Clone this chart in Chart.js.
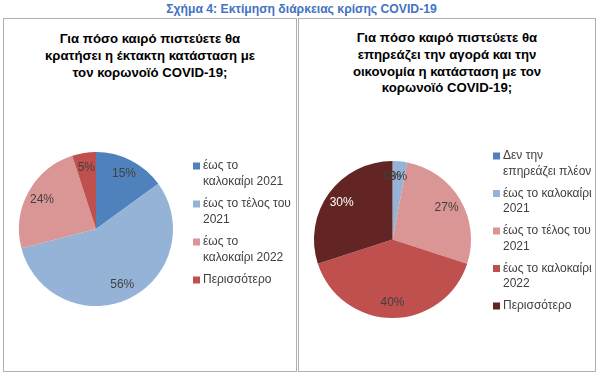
<!DOCTYPE html>
<html>
<head>
<meta charset="utf-8">
<script src="https://cdn.jsdelivr.net/npm/chart.js@4"></script>
<style>
  html, body { margin:0; padding:0; background:#fff; }
  body { width:600px; height:378px; position:relative; overflow:hidden; font-family:"Liberation Sans", Arial, sans-serif; }
  #main { position:absolute; left:0; top:2px; width:603px; text-align:center; color:#4472C4; font-weight:bold; font-size:12.2px; }
  .panel { position:absolute; top:18px; height:354px; border:1px solid #B0B0B0; box-sizing:border-box; }
  .ptitle { position:absolute; left:0; right:0; text-align:center; font-weight:bold; font-size:13.2px; line-height:16.8px; color:#000; }
  canvas { position:absolute; left:0; top:0; }
</style>
</head>
<body>
<div id="main">Σχήμα 4: Εκτίμηση διάρκειας κρίσης COVID-19</div>
<div class="panel" id="p1" style="left:3px;width:294px;">
  <div class="ptitle" style="top:12px;">Για πόσο καιρό πιστεύετε θα<br>κρατήσει η έκτακτη κατάσταση με<br>τον κορωνοϊό COVID-19;</div>
  <canvas id="c1" width="292" height="352"></canvas>
</div>
<div class="panel" id="p2" style="left:298px;width:298px;">
  <div class="ptitle" style="top:11px;">Για πόσο καιρό πιστεύετε θα<br>επηρεάζει την αγορά και την<br>οικονομία η κατάσταση με τον<br>κορωνοϊό COVID-19;</div>
  <canvas id="c2" width="296" height="352"></canvas>
</div>
<script>
// ---- Data ----
const leftCategories = [["έως το","καλοκαίρι 2021"],["έως το τέλος του","2021"],["έως το","καλοκαίρι 2022"],["Περισσότερο"]];
const leftValues = [15, 56, 24, 5];
const leftColors = ["#4F81BD","#95B3D7","#D99694","#C0504D"];

const rightCategories = [["Δεν την","επηρεάζει πλέον"],["έως το καλοκαίρι","2021"],["έως το τέλος του","2021"],["έως το καλοκαίρι","2022"],["Περισσότερο"]];
const rightValues = [0, 3, 27, 40, 30];
const rightColors = ["#4F81BD","#95B3D7","#D99694","#C0504D","#632523"];
const rightLabelColors = ["#404040","#404040","#404040","#404040","#FFFFFF"];

const FONT = '"Liberation Sans", Arial, sans-serif';

const labelPlugin = {
  id: 'sliceLabels',
  afterDatasetsDraw(chart, args, opts) {
    const ctx = chart.ctx;
    const meta = chart.getDatasetMeta(0);
    const ds = chart.data.datasets[0];
    ctx.save();
    ctx.font = '12px ' + FONT;
    ctx.textAlign = 'center';
    ctx.textBaseline = 'middle';
    meta.data.forEach((arc, i) => {
      const p = arc.getProps(['x','y','startAngle','endAngle','outerRadius'], true);
      const mid = (p.startAngle + p.endAngle) / 2;
      const r = p.outerRadius * opts.dist;
      const x = p.x + Math.cos(mid) * r;
      const y = p.y + Math.sin(mid) * r;
      ctx.fillStyle = (opts.colors && opts.colors[i]) || '#404040';
      ctx.fillText(Math.round(ds.data[i]) + '%', x, y);
    });
    ctx.restore();
  }
};

const legendPlugin = {
  id: 'customLegend',
  afterDraw(chart, args, opts) {
    const ctx = chart.ctx;
    const labels = chart.data.labels;
    const colors = chart.data.datasets[0].backgroundColor;
    ctx.save();
    ctx.font = '12px ' + FONT;
    ctx.textBaseline = 'middle';
    ctx.textAlign = 'left';
    let y = opts.y;
    labels.forEach((lines, i) => {
      ctx.fillStyle = colors[i];
      ctx.fillRect(opts.x, y - 3.5, 7, 7);
      ctx.fillStyle = '#404040';
      lines.forEach((t, j) => {
        ctx.fillText(t, opts.x + 10, y + j * opts.lh);
      });
      y += lines.length * opts.lh + opts.gap;
    });
    ctx.restore();
  }
};

function makePie(id, labels, values, colors, padding, legendPos, labelColors) {
  return new Chart(document.getElementById(id), {
    type: 'pie',
    data: { labels: labels, datasets: [{ data: values, backgroundColor: colors, borderWidth: 0 }] },
    options: {
      responsive: false,
      animation: false,
      layout: { padding: padding },
      plugins: {
        legend: { display: false },
        tooltip: { enabled: false },
        title: { display: false },
        sliceLabels: { dist: 0.8, colors: labelColors },
        customLegend: legendPos
      }
    },
    plugins: [labelPlugin, legendPlugin]
  });
}

makePie('c1', leftCategories, leftValues, leftColors,
  { left: 15, right: 123, top: 133, bottom: 65 },
  { x: 189, y: 147, lh: 15.5, gap: 7 }, null);

makePie('c2', rightCategories, rightValues, rightColors,
  { left: 15, right: 124, top: 142, bottom: 53 },
  { x: 194, y: 137, lh: 15.5, gap: 6.5 }, rightLabelColors);
</script>
</body>
</html>
